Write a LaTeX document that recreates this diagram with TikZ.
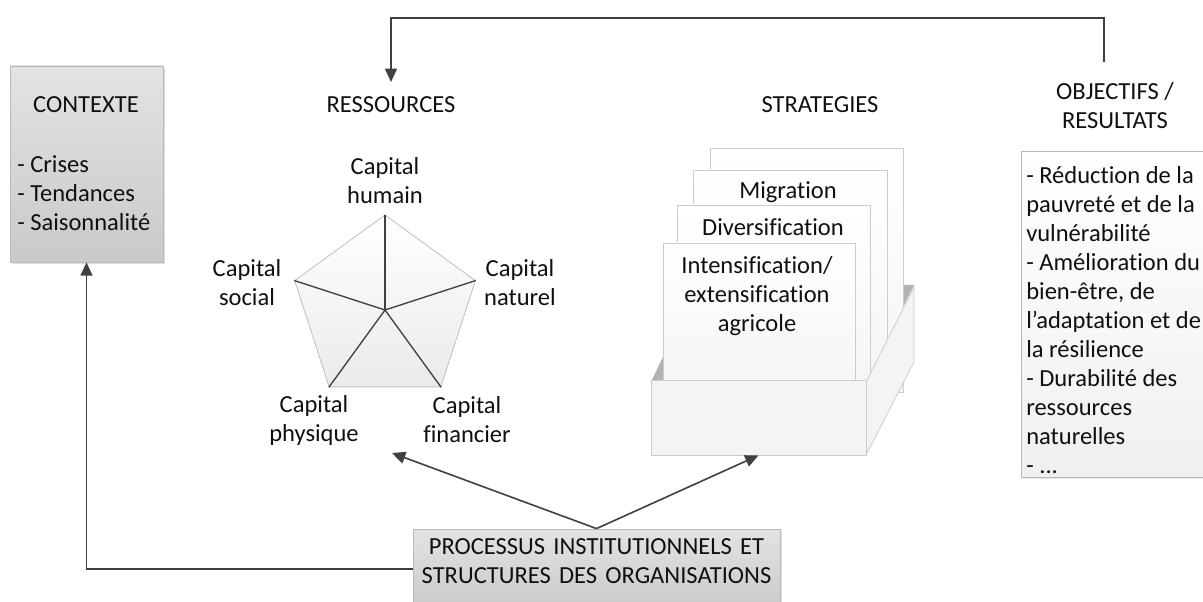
\documentclass[tikz,border=0pt]{standalone}
\usepackage{fontspec}
\setmainfont{Carlito}[Ligatures=NoCommon]
\usetikzlibrary{arrows.meta,shadows,fit,shapes.geometric}
\definecolor{arrowc}{HTML}{404040}
\definecolor{txtc}{HTML}{101010}
\begin{document}
\begin{tikzpicture}[x=0.75pt,y=-0.75pt,
  txt/.style={text=txtc,font=\fontsize{18.4}{21.75}\selectfont,inner sep=0pt,align=center},
  greybox/.style={draw=gray!55,line width=0.6pt,top color=gray!22,bottom color=gray!42,inner sep=0pt,
     drop shadow={shadow xshift=1.5pt,shadow yshift=-1.5pt,opacity=0.25,fill=gray}},
  objbox/.style={draw=gray!55,line width=0.6pt,top color=white,bottom color=gray!12,inner sep=0pt,
     drop shadow={shadow xshift=1.5pt,shadow yshift=-1.5pt,opacity=0.2,fill=gray}},
  card/.style={draw=gray!40,line width=0.6pt,top color=white,bottom color=gray!8,inner sep=0pt},
  face/.style={draw=gray!40,line width=0.6pt,fill=gray!9},
  arr/.style={draw=arrowc,line width=1.2pt,-{Triangle[length=10pt,width=9pt]}},
  spoke/.style={draw=arrowc,line width=1pt}
]
\useasboundingbox (0,0) rectangle (1203,602);

% ---------- CONTEXTE ----------
\node[greybox,fit={(10,66)(163,262)}] (ctx) {};
\node[txt] (ctxT) at (86,105) {CONTEXTE};
\node[txt,align=left,anchor=west] (ctxL) at (17,193) {- Crises\\- Tendances\\- Saisonnalité};

% ---------- RESSOURCES ----------
\node[txt] (resT) at (391,105) {RESSOURCES};
\coordinate (resIn) at (391,82);
\node[regular polygon,regular polygon sides=5,minimum size=142.5pt,inner sep=0pt,
      draw=gray!50,line width=0.6pt,top color=white,bottom color=gray!16] (pent) at (385,310) {};
\foreach \i in {1,...,5}{\draw[spoke] (pent.center) -- (pent.corner \i);}
\node[txt] (hum) at (385,181) {Capital\\humain};
\node[txt] (soc) at (247,283) {Capital\\social};
\node[txt] (nat) at (520,283) {Capital\\naturel};
\node[txt] (phy) at (314,420) {Capital\\physique};
\node[txt] (fin) at (467,420) {Capital\\financier};
\coordinate (resArr) at (392,453);

% ---------- STRATEGIES ----------
\node[txt] (strT) at (820,105) {STRATEGIES};
\fill[gray!60] (652,380) -- (697,285) -- (914,285) -- (866,382) -- cycle;
\node[card,fit={(710,148)(903,392)}] (card4) {};
\node[card,fit={(693,170)(887,392)}] (card3) {};
\node[card,fit={(677,205)(870,392)}] (card2) {};
\node[card,fit={(663,243)(855,392)}] (card1) {};
\node[txt] (mig) at (788,192) {Migration};
\node[txt] (div) at (773,227) {Diversification};
\node[txt] (int) at (757,296) {Intensification/\\extensification\\agricole};
\draw[face] (866,382) -- (914,287) -- (914,362) -- (866,455) -- cycle;
\node[face,inner sep=0pt,fit={(651,380)(866,455)}] (front) {};

% ---------- OBJECTIFS ----------
\node[txt] (objT) at (1115,106) {OBJECTIFS /\\RESULTATS};
\coordinate (objTop) at (1104,62);
\coordinate (topL) at (391,18);
\node[objbox,fit={(1021,151)(1215,477)}] (obj) {};
\node[txt,align=left,anchor=west] (objL) at (1026,320) {- Réduction de la\\pauvreté et de la\\vulnérabilité\\- Amélioration du\\bien-être, de\\l’adaptation et de\\la résilience\\- Durabilité des\\ressources\\naturelles\\- ...};

% ---------- PROCESSUS ----------
\node[greybox,fit={(413,529)(780,609)},txt] (proc) {PROCESSUS INSTITUTIONNELS ET\\STRUCTURES DES ORGANISATIONS};

% ---------- ARROWS ----------
\draw[arr] (objTop) |- (topL) -- (resIn);
\draw[arr] (proc.west) -| (ctx.south);
\draw[arr] (proc.north) -- (resArr);
\draw[arr] (proc.north) -- (front.south);
\end{tikzpicture}
\end{document}
